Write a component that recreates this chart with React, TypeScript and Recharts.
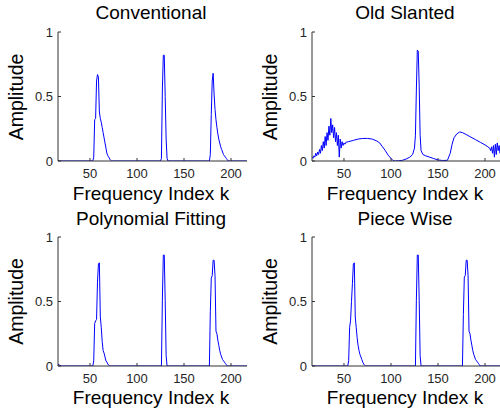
import React from 'react';
import { LineChart, Line, XAxis, YAxis } from 'recharts';

// ---- data: [frequency index k, amplitude] ----
const conventional: [number, number][] = [
  [16, 0], [53, 0], [54, 0.03], [55, 0.32], [56, 0.33], [57, 0.62], [58, 0.67], [59, 0.65], [60, 0.38],
  [61, 0.33], [62, 0.3], [63, 0.26], [64, 0.22], [65, 0.18], [66, 0.14], [67, 0.1], [68, 0.06], [69, 0.04],
  [70, 0.03], [71, 0.015], [72, 0.005], [73, 0],
  [125, 0], [126, 0.02], [127, 0.55], [128, 0.82], [129, 0.82], [130, 0.5], [131, 0.17], [132, 0.02], [133, 0],
  [177, 0], [178, 0.05], [179, 0.36], [180, 0.62], [181, 0.68], [182, 0.52], [183, 0.4], [184, 0.32],
  [185, 0.26], [186, 0.21], [187, 0.17], [188, 0.14], [189, 0.11], [190, 0.09], [191, 0.07], [192, 0.05],
  [193, 0.04], [194, 0.03], [195, 0.02], [196, 0.01], [197, 0], [217, 0],
];

const oldSlanted: [number, number][] = [
  [16, 0.03], [17, 0.02], [18, 0.04], [19, 0.03], [20, 0.06], [21, 0.04], [22, 0.07], [23, 0.05], [24, 0.09],
  [25, 0.06], [26, 0.12], [27, 0.08], [28, 0.15], [29, 0.1], [30, 0.19], [31, 0.12], [32, 0.22], [33, 0.16],
  [34, 0.27], [35, 0.2], [36, 0.33], [37, 0.22], [38, 0.28], [39, 0.18], [40, 0.26], [41, 0.15], [42, 0.22],
  [43, 0.12], [44, 0.2], [45, 0.03], [46, 0.17], [47, 0.1], [48, 0.15], [49, 0.12], [50, 0.14], [51, 0.13],
  [52, 0.145], [55, 0.15], [60, 0.16], [65, 0.17], [70, 0.175], [75, 0.175], [80, 0.17], [85, 0.155],
  [88, 0.14], [91, 0.11], [94, 0.08], [97, 0.045], [100, 0.02], [102, 0.005], [104, 0], [108, 0.002],
  [112, 0.005], [116, 0.015], [120, 0.03], [123, 0.05], [125, 0.1], [126, 0.2], [127, 0.55], [128, 0.86],
  [129, 0.85], [130, 0.58], [131, 0.2], [132, 0.08], [134, 0.05], [137, 0.04], [141, 0.03], [145, 0.02],
  [150, 0.008], [155, 0.004], [160, 0.005], [163, 0.06], [165, 0.13], [167, 0.18], [170, 0.21], [173, 0.225],
  [176, 0.22], [180, 0.205], [185, 0.185], [190, 0.165], [195, 0.145], [200, 0.125], [203, 0.11], [205, 0.1],
  [206, 0.08], [207, 0.11], [208, 0.06], [209, 0.12], [210, 0.03], [211, 0.13], [212, 0.05], [213, 0.14],
  [214, 0.08], [215, 0.12], [216, 0.06], [217, 0.1],
];

const polynomialFitting: [number, number][] = [
  [16, 0.015], [18, 0.005], [20, 0], [53, 0], [54, 0.04], [55, 0.33], [56, 0.35], [57, 0.36], [58, 0.65],
  [59, 0.79], [60, 0.8], [61, 0.38], [62, 0.3], [63, 0.19], [64, 0.12], [65, 0.1], [66, 0.07], [67, 0.04],
  [68, 0.03], [69, 0.015], [70, 0.005], [71, 0],
  [126, 0], [127, 0.51], [128, 0.86], [129, 0.86], [130, 0.51], [131, 0.08], [132, 0],
  [177, 0], [178, 0.42], [179, 0.68], [180, 0.7], [181, 0.82], [182, 0.82], [183, 0.7], [184, 0.27],
  [185, 0.25], [186, 0.2], [187, 0.16], [188, 0.12], [189, 0.09], [190, 0.07], [191, 0.05], [192, 0.04],
  [193, 0.03], [194, 0.02], [195, 0.01], [196, 0], [217, 0],
];

const pieceWise: [number, number][] = [
  [16, 0], [54, 0], [55, 0.04], [56, 0.3], [57, 0.35], [58, 0.5], [59, 0.64], [60, 0.79], [61, 0.8],
  [62, 0.38], [63, 0.3], [64, 0.22], [65, 0.16], [66, 0.12], [67, 0.09], [68, 0.07], [69, 0.05], [70, 0.03],
  [71, 0.015], [72, 0.005], [73, 0],
  [126, 0], [127, 0.51], [128, 0.86], [129, 0.86], [130, 0.51], [131, 0.08], [132, 0],
  [176, 0], [177, 0.4], [178, 0.69], [179, 0.7], [180, 0.82], [181, 0.82], [182, 0.7], [183, 0.27],
  [184, 0.25], [185, 0.2], [186, 0.16], [187, 0.12], [188, 0.09], [189, 0.07], [190, 0.05], [191, 0.04],
  [192, 0.03], [193, 0.02], [194, 0.01], [195, 0], [217, 0],
];

const titles = ['Conventional', 'Old Slanted', 'Polynomial Fitting', 'Piece Wise'];
const xTicks = [50, 100, 150, 200];
const yTicks = [0, 0.5, 1];
const xDomain: [number, number] = [16, 217];
const xLabel = 'Frequency Index k';
const yLabel = 'Amplitude';

const FONT = '"Liberation Sans", Arial, Helvetica, sans-serif';
const AXIS = '#333333';

function Panel({ data, left, top }: { data: [number, number][]; left: number; top: number }) {
  const rows = data.map(([k, a]) => ({ k, a }));
  const tickStyle = { fill: '#262626', fontSize: 13, fontFamily: FONT };
  return (
    <div style={{ position: 'absolute', left, top, width: 250, height: 191 }}>
      <LineChart width={250} height={191} data={rows} margin={{ top: 32, right: 3, bottom: 0, left: 0 }}>
        <XAxis
          xAxisId="b"
          dataKey="k"
          type="number"
          domain={xDomain}
          ticks={xTicks}
          allowDataOverflow
          interval={0}
          height={30}
          tickSize={-3}
          tickMargin={11}
          stroke={AXIS}
          tickLine={{ stroke: AXIS }}
          tick={tickStyle}
        />
        <XAxis
          xAxisId="t"
          orientation="top"
          dataKey="k"
          type="number"
          domain={xDomain}
          ticks={xTicks}
          allowDataOverflow
          interval={0}
          height={0}
          tickSize={-3}
          tickFormatter={() => ''}
          stroke={AXIS}
          tickLine={{ stroke: AXIS }}
        />
        <YAxis
          yAxisId="l"
          type="number"
          domain={[0, 1]}
          ticks={yTicks}
          allowDataOverflow
          interval={0}
          width={58}
          tickSize={-3}
          tickMargin={8}
          stroke={AXIS}
          tickLine={{ stroke: AXIS }}
          tick={tickStyle}
        />
        <YAxis
          yAxisId="r"
          orientation="right"
          type="number"
          domain={[0, 1]}
          ticks={yTicks}
          allowDataOverflow
          interval={0}
          width={0}
          tickSize={-3}
          tickFormatter={() => ''}
          stroke={AXIS}
          tickLine={{ stroke: AXIS }}
        />
        <Line
          xAxisId="t"
          yAxisId="r"
          dataKey="a"
          type="linear"
          stroke="none"
          dot={false}
          activeDot={false}
          isAnimationActive={false}
        />
        <Line
          xAxisId="b"
          yAxisId="l"
          dataKey="a"
          type="linear"
          stroke="#0000ff"
          strokeWidth={1}
          dot={false}
          activeDot={false}
          isAnimationActive={false}
        />
      </LineChart>
    </div>
  );
}

export default function App() {
  const panels = [
    { data: conventional, left: 0, top: 0 },
    { data: oldSlanted, left: 254, top: 0 },
    { data: polynomialFitting, left: 0, top: 204.5 },
    { data: pieceWise, left: 254, top: 204.5 },
  ];
  const textStyle = { fontFamily: FONT, fill: '#000' };
  return (
    <div
      style={{
        position: 'absolute',
        left: 0,
        top: 0,
        width: 500,
        height: 413,
        overflow: 'hidden',
        background: '#fff',
      }}
    >
      {panels.map((p, i) => (
        <Panel key={i} data={p.data} left={p.left} top={p.top} />
      ))}
      <svg
        width={500}
        height={413}
        style={{ position: 'absolute', left: 0, top: 0, pointerEvents: 'none' }}
      >
        {panels.map((p, i) => {
          const cx = p.left + 152;
          const cy = p.top + 97;
          return (
            <g key={i}>
              <text x={cx - 1} y={p.top + 19 + (i >= 2 ? 1.5 : 0)} textAnchor="middle" fontSize={19} style={textStyle}>
                {titles[i]}
              </text>
              <text x={cx - 1} y={p.top + 199.5} textAnchor="middle" fontSize={19} style={textStyle}>
                {xLabel}
              </text>
              <text
                x={p.left + 23}
                y={cy}
                textAnchor="middle"
                fontSize={19.5}
                transform={`rotate(-90 ${p.left + 23} ${cy})`}
                style={textStyle}
              >
                {yLabel}
              </text>
            </g>
          );
        })}
      </svg>
    </div>
  );
}
